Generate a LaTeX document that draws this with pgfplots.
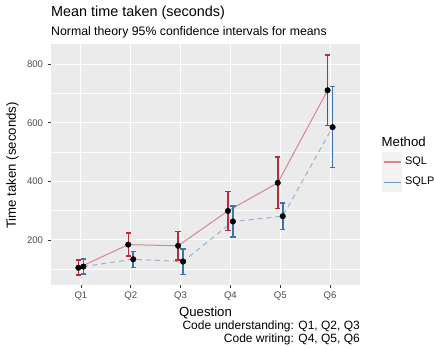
\documentclass[border=0pt]{standalone}
\usepackage{fontspec}
\setmainfont{Liberation Sans}
\usepackage{pgfplots}
\usepackage{pgfplotstable}
\pgfplotsset{compat=1.18}
\definecolor{panelbg}{RGB}{235,235,235}
\definecolor{sqlerr}{RGB}{196,40,56}
\definecolor{sqlperr}{RGB}{59,117,175}
\definecolor{sqlline}{RGB}{210,136,144}
\definecolor{sqlpline}{RGB}{150,178,207}
\definecolor{sqlpkey}{RGB}{110,150,196}
\definecolor{tickgrey}{RGB}{77,77,77}
\definecolor{keybg}{RGB}{242,242,242}

% means
\pgfplotstableread{
x m
0.95 105
1.95 184
2.95 180
3.95 299
4.95 395
5.95 711
}\sqltab
\pgfplotstableread{
x m
1.05 109
2.05 134
3.05 126
4.05 263
5.05 281
6.05 585
}\sqlptab
% 95% CI ends (lower, upper), one bar per question
\pgfplotstableread{
x y
0.95 80.5
0.95 131
nan nan
1.95 145
1.95 224
nan nan
2.95 132
2.95 228
nan nan
3.95 232
3.95 366
nan nan
4.95 307
4.95 483
nan nan
5.95 590
5.95 831
}\sqlci
\pgfplotstableread{
x y
1.05 84
1.05 135
nan nan
2.05 105
2.05 161
nan nan
3.05 82
3.05 169
nan nan
4.05 210
4.05 316
nan nan
5.05 235
5.05 326
nan nan
6.05 447
6.05 724
}\sqlpci

\newcommand{\fs}[1]{\fontsize{#1bp}{1.2\dimexpr#1bp\relax}\selectfont}

\begin{document}
\begin{tikzpicture}[x=1bp,y=1bp]
\path[use as bounding box] (0,0) rectangle (434,-348);
\begin{axis}[
  at={(51bp,-285bp)}, anchor=south west,
  scale only axis, width=309bp, height=241bp,
  xmin=0.4, xmax=6.6, ymin=46, ymax=869,
  axis background/.style={fill=panelbg},
  axis line style={draw=none},
  xtick={1,2,3,4,5,6},
  xticklabels={Q1,Q2,Q3,Q4,Q5,Q6},
  ytick={200,400,600,800},
  minor ytick={100,300,500,700},
  xmajorgrids, ymajorgrids, yminorgrids,
  major grid style={white, line width=1.1bp},
  minor grid style={white, line width=0.55bp},
  tick align=outside, xtick pos=bottom, ytick pos=left,
  major tick length=2.75bp, minor tick length=0pt,
  tick style={color=black!80, line width=0.8bp},
  /pgf/number format/assume math mode=true,
  ticklabel style={font=\fs{9.6}, text=tickgrey},
  xticklabel style={inner sep=0pt, yshift=-4bp},
  yticklabel style={inner sep=0pt, xshift=-5bp},
  unbounded coords=jump,
]
\addplot[sqlline, line width=1bp] table[x=x,y=m] {\sqltab};
\addplot[sqlpline, line width=1bp, dash pattern=on 5bp off 4bp] table[x=x,y=m] {\sqlptab};
% error bars
\addplot[sqlerr, line width=1.5bp, forget plot] table[x=x,y=y] {\sqlci};
\addplot[sqlerr, only marks, mark=-, mark size=2.6bp, mark options={line width=1.4bp}, forget plot] table[x=x,y=y] {\sqlci};
\addplot[sqlperr, line width=1.5bp, forget plot] table[x=x,y=y] {\sqlpci};
\addplot[sqlperr, only marks, mark=-, mark size=2.6bp, mark options={line width=1.4bp}, forget plot] table[x=x,y=y] {\sqlpci};
% means
\addplot[only marks, mark=*, mark size=2.8bp, black, forget plot] table[x=x,y=m] {\sqltab};
\addplot[only marks, mark=*, mark size=2.8bp, black, forget plot] table[x=x,y=m] {\sqlptab};
\end{axis}
% titles
\node[anchor=base west, inner sep=0pt] at (51,-16) {\fs{14.4}Mean time taken (seconds)};
\node[anchor=base west, inner sep=0pt] at (51,-35.7) {\fs{12.3}Normal theory 95\% confidence intervals for means};
\node[anchor=base, inner sep=0pt] at (205.5,-316.5) {\fs{13.2}Question};
\node[anchor=base east, inner sep=0pt] at (360,-329) {\fs{12}Code understanding: Q1, Q2, Q3};
\node[anchor=base east, inner sep=0pt] at (360,-342) {\fs{12}Code writing: Q4, Q5, Q6};
\node[rotate=90, inner sep=0pt] at (12.5,-165.5) {\fs{13.2}Time taken (seconds)};
% legend
\node[anchor=base west, inner sep=0pt] at (381.5,-146) {\fs{13.2}Method};
\fill[keybg] (382,-152) rectangle (402,-171.7);
\fill[keybg] (382,-172.3) rectangle (402,-192);
\draw[sqlline, line width=1.1bp] (383.5,-162) -- (400.5,-162);
\draw[sqlpkey, line width=1.1bp] (383.5,-182.2) -- (400.5,-182.2);
\node[anchor=west, inner sep=0pt] at (405,-162) {\fs{10.9}SQL};
\node[anchor=west, inner sep=0pt] at (405,-182.2) {\fs{10.9}SQLP};
\end{tikzpicture}
\end{document}
